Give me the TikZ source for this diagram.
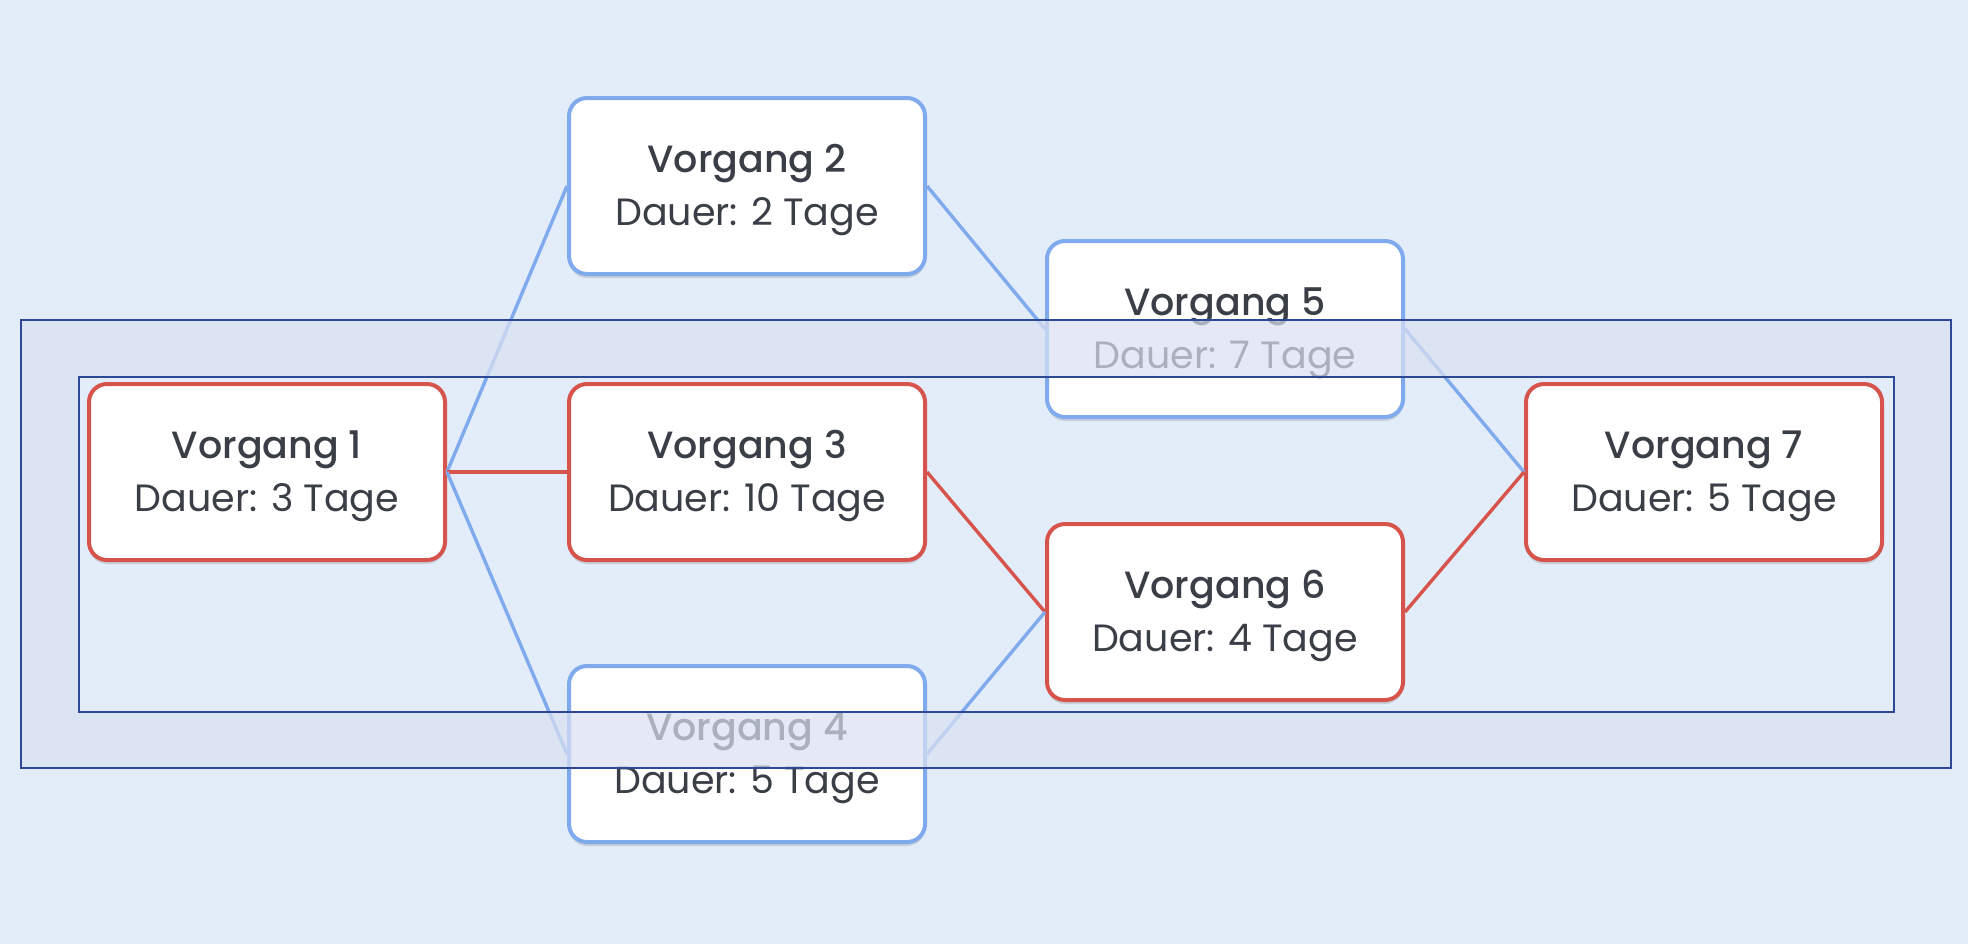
\documentclass[tikz,border=0pt]{standalone}
\usepackage{fontspec}
\setmainfont{Poppins}[BoldFont={Poppins Medium}]
\usetikzlibrary{shadows}
\definecolor{bg}{RGB}{227,236,249}
\definecolor{bandc}{RGB}{218,225,241}
\definecolor{framec}{RGB}{45,72,148}
\definecolor{critred}{RGB}{214,84,76}
\definecolor{normblue}{RGB}{128,170,238}
\definecolor{txt}{RGB}{58,62,70}
\newcommand\tasktext[2]{\rule{0pt}{17.7pt}\textbf{#1}\\#2}
\begin{document}
\begin{tikzpicture}[x=0.5pt,y=-0.5pt,
  task/.style={draw, line width=2pt, rounded corners=9pt, fill=white,
    minimum width=178pt, minimum height=88pt, inner sep=0pt, align=center,
    text=txt, font=\fontsize{19}{26.5}\selectfont,
    drop shadow={shadow xshift=0pt, shadow yshift=-2pt, opacity=0.12, fill=black}},
  crit/.style={task, draw=critred},
  norm/.style={task, draw=normblue},
  critedge/.style={draw=critred, line width=1.7pt},
  normedge/.style={draw=normblue, line width=1.7pt},
  framebox/.style={draw=framec, line width=0.9pt}]
\fill[bg] (0,0) rectangle (1968,944);
\useasboundingbox (0,0) rectangle (1968,944);

\node[crit] (v1) at (267,472) {\tasktext{Vorgang 1}{Dauer: 3 Tage}};
\node[norm] (v2) at (747,186) {\tasktext{Vorgang 2}{Dauer: 2 Tage}};
\node[crit] (v3) at (747,472) {\tasktext{Vorgang 3}{Dauer: 10 Tage}};
\node[norm] (v4) at (747,754) {\tasktext{Vorgang 4}{Dauer: 5 Tage}};
\node[norm] (v5) at (1225,329) {\tasktext{Vorgang 5}{Dauer: 7 Tage}};
\node[crit] (v6) at (1225,612) {\tasktext{Vorgang 6}{Dauer: 4 Tage}};
\node[crit] (v7) at (1704,472) {\tasktext{Vorgang 7}{Dauer: 5 Tage}};

\draw[normedge] (v1.east) -- (v2.west);
\draw[critedge] (v1.east) -- (v3.west);
\draw[normedge] (v1.east) -- (v4.west);
\draw[normedge] (v2.east) -- (v5.west);
\draw[critedge] (v3.east) -- (v6.west);
\draw[normedge] (v4.east) -- (v6.west);
\draw[normedge] (v5.east) -- (v7.west);
\draw[critedge] (v6.east) -- (v7.west);

\fill[bandc, opacity=0.7, even odd rule] (21,320) rectangle (1951,768) (79,377) rectangle (1894,712);
\draw[framebox] (21,320) rectangle (1951,768);
\draw[framebox] (79,377) rectangle (1894,712);
\end{tikzpicture}
\end{document}
